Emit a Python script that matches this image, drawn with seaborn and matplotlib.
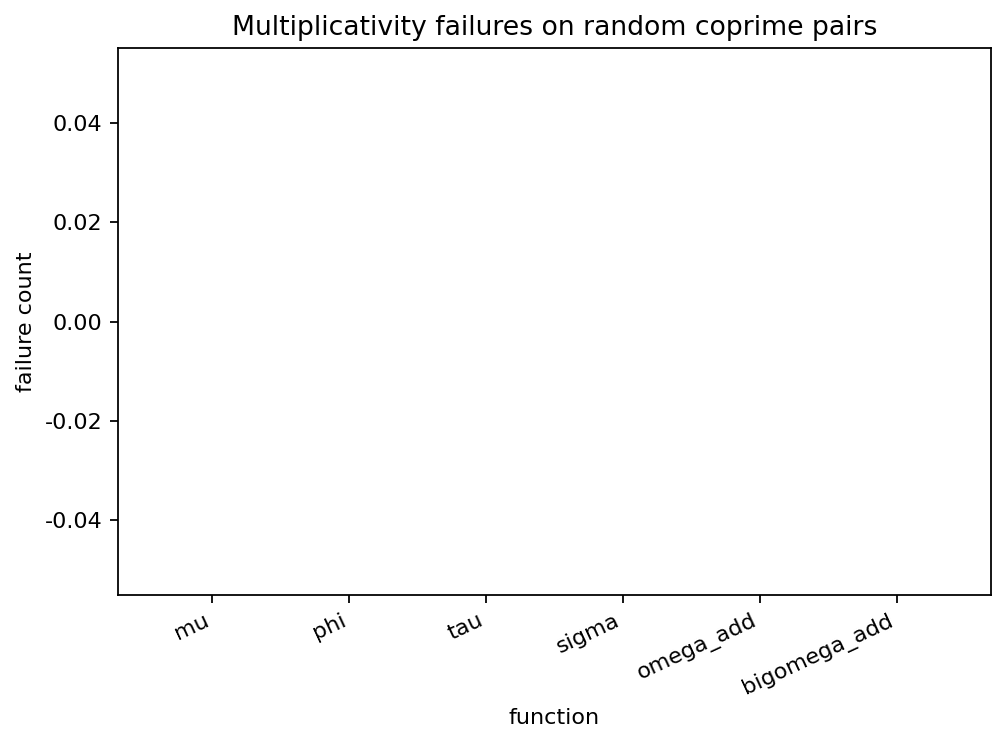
import matplotlib
matplotlib.use("Agg")
import matplotlib.pyplot as plt
import seaborn as sns
import pandas as pd

functions = ["mu", "phi", "tau", "sigma", "omega_add", "bigomega_add"]
failures = [0, 0, 0, 0, 0, 0]

plt.rcParams["axes.unicode_minus"] = False

df = pd.DataFrame({"function": functions, "failure count": failures})

DPI = 160
fig, ax = plt.subplots(figsize=(1006 / DPI, 745 / DPI), dpi=DPI)
sns.barplot(data=df, x="function", y="failure count", ax=ax, color="#1f77b4")
ax.set_xlim(-0.69, 5.69)
ax.set_ylim(-0.055, 0.055)
ax.set_title("Multiplicativity failures on random coprime pairs")
ax.set_xlabel("function")
ax.set_ylabel("failure count")
plt.setp(ax.get_xticklabels(), rotation=25, ha="right")
fig.subplots_adjust(left=118 / 1006, right=991 / 1006, top=1 - 48 / 745, bottom=1 - 595 / 745)
fig.savefig("out.png", dpi=DPI)
